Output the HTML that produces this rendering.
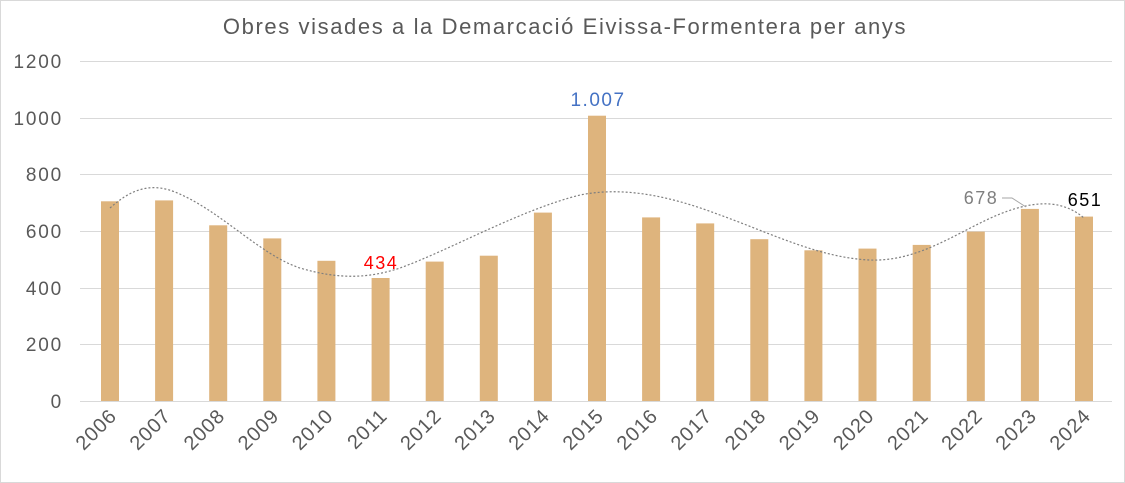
<!DOCTYPE html>
<html><head><meta charset="utf-8"><style>
body{margin:0;background:#fff}
svg{display:block;font-family:"Liberation Sans",sans-serif}
</style></head><body>
<svg width="1125" height="483" viewBox="0 0 1125 483">
<rect x="0.5" y="0.5" width="1124" height="482" fill="#fff" stroke="#d9d9d9"/>
<text x="565" y="34" text-anchor="middle" font-size="22" fill="#595959" letter-spacing="1.6">Obres visades a la Demarcació Eivissa-Formentera per anys</text>
<g stroke="#d9d9d9" stroke-width="1">
<line x1="80" x2="1112" y1="61.5" y2="61.5"/>
<line x1="80" x2="1112" y1="118.5" y2="118.5"/>
<line x1="80" x2="1112" y1="174.5" y2="174.5"/>
<line x1="80" x2="1112" y1="231.5" y2="231.5"/>
<line x1="80" x2="1112" y1="288.5" y2="288.5"/>
<line x1="80" x2="1112" y1="344.5" y2="344.5"/>
<line x1="80" x2="1112" y1="401.5" y2="401.5"/>
</g>
<g font-size="19" fill="#595959" text-anchor="end" letter-spacing="1.8">
<text x="63" y="68">1200</text><text x="63" y="125">1000</text><text x="63" y="181">800</text>
<text x="63" y="238">600</text><text x="63" y="295">400</text><text x="63" y="351">200</text><text x="63" y="408">0</text>
</g>
<g fill="#deb47d">
<rect x="101" y="201.3" width="18" height="199.7"/>
<rect x="155.1" y="200.4" width="18" height="200.6"/>
<rect x="209.2" y="225.3" width="18" height="175.7"/>
<rect x="263.3" y="238.4" width="18" height="162.6"/>
<rect x="317.4" y="260.8" width="18" height="140.2"/>
<rect x="371.6" y="278" width="18" height="123"/>
<rect x="425.7" y="261.6" width="18" height="139.4"/>
<rect x="479.8" y="255.7" width="18" height="145.3"/>
<rect x="533.9" y="212.6" width="18" height="188.4"/>
<rect x="588" y="115.7" width="18" height="285.3"/>
<rect x="642.1" y="217.4" width="18" height="183.6"/>
<rect x="696.2" y="223.4" width="18" height="177.6"/>
<rect x="750.3" y="239.2" width="18" height="161.8"/>
<rect x="804.4" y="250.3" width="18" height="150.7"/>
<rect x="858.5" y="248.6" width="18" height="152.4"/>
<rect x="912.7" y="244.9" width="18" height="156.1"/>
<rect x="966.8" y="231.6" width="18" height="169.4"/>
<rect x="1020.9" y="208.9" width="18" height="192.1"/>
<rect x="1075" y="216.6" width="18" height="184.4"/>
</g>
<g font-size="20" fill="#595959" text-anchor="end" letter-spacing="1">
<text transform="translate(118,417) rotate(-45)">2006</text>
<text transform="translate(172.1,417) rotate(-45)">2007</text>
<text transform="translate(226.2,417) rotate(-45)">2008</text>
<text transform="translate(280.3,417) rotate(-45)">2009</text>
<text transform="translate(334.4,417) rotate(-45)">2010</text>
<text transform="translate(388.6,417) rotate(-45)">2011</text>
<text transform="translate(442.7,417) rotate(-45)">2012</text>
<text transform="translate(496.8,417) rotate(-45)">2013</text>
<text transform="translate(550.9,417) rotate(-45)">2014</text>
<text transform="translate(605,417) rotate(-45)">2015</text>
<text transform="translate(659.1,417) rotate(-45)">2016</text>
<text transform="translate(713.2,417) rotate(-45)">2017</text>
<text transform="translate(767.3,417) rotate(-45)">2018</text>
<text transform="translate(821.4,417) rotate(-45)">2019</text>
<text transform="translate(875.5,417) rotate(-45)">2020</text>
<text transform="translate(929.7,417) rotate(-45)">2021</text>
<text transform="translate(983.8,417) rotate(-45)">2022</text>
<text transform="translate(1037.9,417) rotate(-45)">2023</text>
<text transform="translate(1092,417) rotate(-45)">2024</text>
</g>
<path d="M110,208 C130,190 150,182 175,192 C220,210 260,255 300,268 C340,280 370,278 400,268 C450,250 520,210 580,195 C630,185 680,200 720,215 C770,233 820,258 870,260 C920,262 960,230 1000,214 C1040,198 1065,202 1084,218" fill="none" stroke="#7f7f7f" stroke-width="1.2" stroke-dasharray="2,2"/>
<text x="598" y="106" text-anchor="middle" font-size="19" fill="#4472c4" letter-spacing="1.5">1.007</text>
<text x="381" y="269" text-anchor="middle" font-size="18" fill="#ff0000" letter-spacing="1.5">434</text>
<text x="981" y="204" text-anchor="middle" font-size="18" fill="#7f7f7f" letter-spacing="1.5">678</text>
<path d="M1002,198 L1012,198 L1026,207" fill="none" stroke="#a6a6a6"/>
<text x="1085" y="206" text-anchor="middle" font-size="18" fill="#000" letter-spacing="1.5">651</text>
</svg>
</body></html>
